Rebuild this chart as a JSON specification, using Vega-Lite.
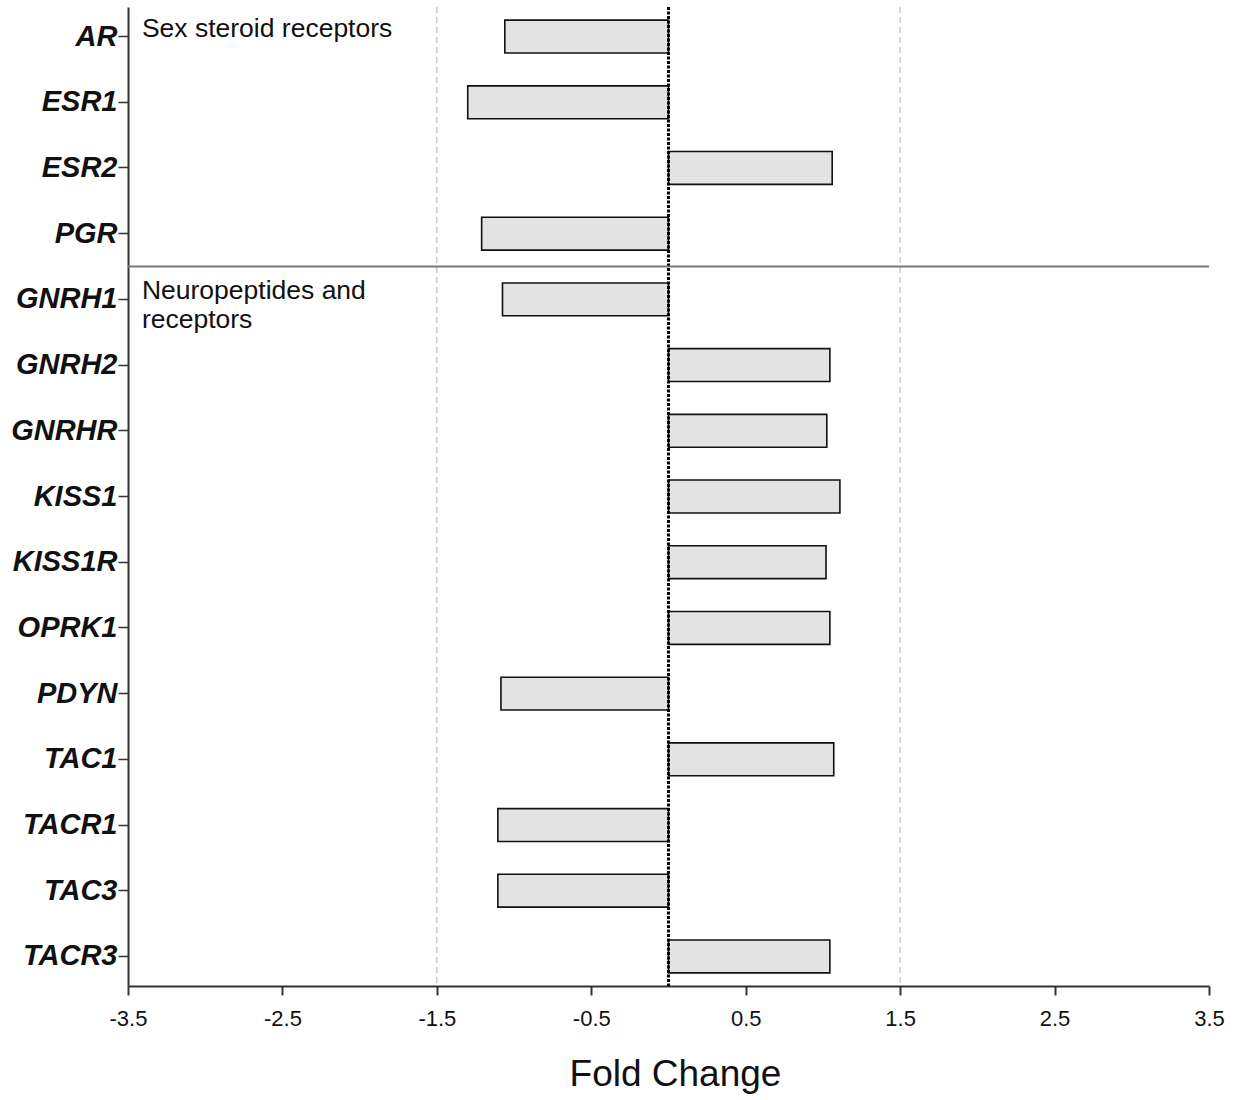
{
  "$schema": "https://vega.github.io/schema/vega-lite/v6.json",
  "autosize": "none",
  "width": 1081,
  "height": 979,
  "padding": {"left": 128, "top": 7, "right": 34, "bottom": 114},
  "background": "white",
  "config": {"view": {"stroke": null}, "font": "Liberation Sans"},
  "datasets": {
    "genes": [
      {"gene": "AR", "fold": -1.06},
      {"gene": "ESR1", "fold": -1.3},
      {"gene": "ESR2", "fold": 1.06},
      {"gene": "PGR", "fold": -1.21},
      {"gene": "GNRH1", "fold": -1.075},
      {"gene": "GNRH2", "fold": 1.045},
      {"gene": "GNRHR", "fold": 1.025},
      {"gene": "KISS1", "fold": 1.11},
      {"gene": "KISS1R", "fold": 1.02},
      {"gene": "OPRK1", "fold": 1.045},
      {"gene": "PDYN", "fold": -1.085},
      {"gene": "TAC1", "fold": 1.07},
      {"gene": "TACR1", "fold": -1.105},
      {"gene": "TAC3", "fold": -1.105},
      {"gene": "TACR3", "fold": 1.045}
    ]
  },
  "encoding": {
    "y": {
      "field": "gene",
      "type": "nominal",
      "scale": {
        "domain": ["AR", "ESR1", "ESR2", "PGR", "GNRH1", "GNRH2", "GNRHR", "KISS1", "KISS1R", "OPRK1", "PDYN", "TAC1", "TACR1", "TAC3", "TACR3"],
        "paddingInner": 0.5,
        "paddingOuter": 0.2
      },
      "axis": {
        "title": null,
        "labelFont": "Liberation Sans",
        "labelFontSize": 29,
        "labelFontWeight": "bold",
        "labelFontStyle": "italic",
        "labelColor": "#111",
        "labelPadding": 1,
        "tickSize": 10,
        "tickColor": "#333",
        "tickWidth": 1.5,
        "domainColor": "#333",
        "domainWidth": 2
      }
    }
  },
  "layer": [
    {
      "data": {"values": [{"ref": -1.5}, {"ref": 1.5}]},
      "mark": {"type": "rule", "color": "#bdbdbd", "strokeWidth": 1.2, "strokeDash": [6, 4]},
      "encoding": {"x": {"field": "ref", "type": "quantitative", "scale": {"domain": [-3.5, 3.5]}}, "y": null}
    },
    {
      "data": {"name": "genes"},
      "mark": {"type": "bar", "fill": "#e3e3e3", "stroke": "#111", "strokeWidth": 1.6},
      "encoding": {
        "x": {
          "field": "fold",
          "type": "quantitative",
          "scale": {"domain": [-3.5, 3.5], "nice": false, "zero": false},
          "axis": {
            "title": "Fold Change",
            "titleFont": "Liberation Sans",
            "titleFontSize": 37,
            "titleFontWeight": "normal",
            "titleColor": "#111",
            "titlePadding": 27,
            "titleX": 547,
            "values": [-3.5, -2.5, -1.5, -0.5, 0.5, 1.5, 2.5, 3.5],
            "labelExpr": "(datum.value < 0 ? '-' : '') + format(abs(datum.value), '.1f')",
            "labelFlush": false,
            "labelOverlap": false,
            "grid": false,
            "labelFont": "Liberation Sans",
            "labelFontSize": 22,
            "labelColor": "#111",
            "labelPadding": 13,
            "tickSize": 9,
            "tickColor": "#333",
            "tickWidth": 2,
            "domainColor": "#333",
            "domainWidth": 2
          }
        }
      }
    },
    {
      "data": {"values": [{"ref": 0}]},
      "mark": {"type": "rule", "color": "#000", "strokeWidth": 3, "strokeDash": [3, 1.5]},
      "encoding": {"x": {"field": "ref", "type": "quantitative"}, "y": null}
    },
    {
      "data": {"values": [{"gene": "PGR"}]},
      "mark": {"type": "rule", "color": "#777", "strokeWidth": 2},
      "encoding": {"y": {"field": "gene", "type": "nominal", "bandPosition": 1.5}}
    },
    {
      "data": {"values": [
        {"gene": "AR", "label": "Sex steroid receptors", "xpos": -3.41},
        {"gene": "GNRH1", "label": "Neuropeptides and\nreceptors", "xpos": -3.41}
      ]},
      "mark": {"type": "text", "align": "left", "baseline": "alphabetic", "fontSize": 26.5, "font": "Liberation Sans", "color": "#111", "lineBreak": "\n", "lineHeight": 29},
      "encoding": {
        "x": {"field": "xpos", "type": "quantitative"},
        "text": {"field": "label"}
      }
    }
  ]
}
